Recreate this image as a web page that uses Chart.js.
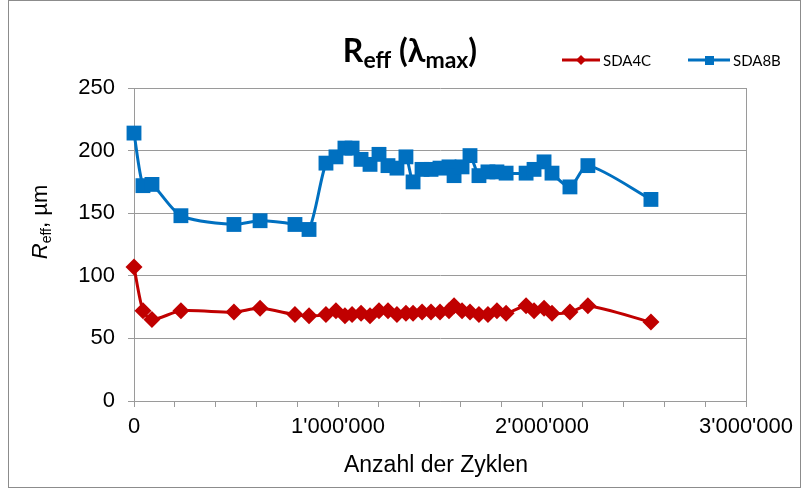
<!DOCTYPE html>
<html>
<head>
<meta charset="utf-8">
<script src="https://cdn.jsdelivr.net/npm/chart.js@4/dist/chart.umd.min.js"></script>
<style>
  html, body { margin: 0; padding: 0; background: #fff; }
  canvas { display: block; }
</style>
</head>
<body>
<canvas id="grafico" width="809" height="489"></canvas>
<script>
// Zyklen (x) und Reff-Werte pro Probe
const cycles = [0, 44000, 88000, 230000, 490000, 618000, 789000, 858000, 941000, 990000,
  1034000, 1069000, 1113000, 1157000, 1201000, 1245000, 1289000, 1333000, 1368000, 1412000,
  1456000, 1500000, 1544000, 1569000, 1608000, 1647000, 1691000, 1735000, 1779000, 1824000,
  1922000, 1961000, 2010000, 2049000, 2137000, 2225000, 2534000];
const sda4c = [107, 72, 65, 72, 71, 74, 69, 68, 69, 72, 68, 69, 70, 68, 72, 72, 69, 70, 70, 71,
  71, 71, 72, 76, 72, 71, 69, 69, 72, 70, 76, 72, 74, 70, 71, 76, 63];
const sda8b = [214, 172, 173, 148, 141, 144, 141, 137, 190, 195, 202, 202, 193, 189, 197, 188,
  186, 195, 175, 185, 185, 186, 187, 180, 187, 196, 180, 183, 183, 182, 182, 185, 191, 182, 171, 188, 161];
const seriesNames = ['SDA4C', 'SDA8B'];
const yTicks = [0, 50, 100, 150, 200, 250];
const xLabels = [0, 1000000, 2000000, 3000000];

const RED = '#C00000';
const BLUE = '#0070C0';
const GRID = '#9a9a9a';

function fmt(v) {
  return String(v).replace(/\B(?=(\d{3})+(?!\d))/g, "'");
}

function pts(ys) {
  return ys.map((y, i) => ({ x: cycles[i], y }));
}

// Titel, Legende, Achsentitel und Rahmen selbst zeichnen (Subskripte)
const deko = {
  id: 'deko',
  afterDraw(chart) {
    const ctx = chart.ctx;
    const area = chart.chartArea;
    ctx.save();

    // Rahmen
    ctx.strokeStyle = '#8c8c8c';
    ctx.lineWidth = 1;
    ctx.strokeRect(8.5, 0.5, 792, 487);

    // rechter Rand der Plotfläche
    ctx.strokeStyle = GRID;
    ctx.beginPath();
    ctx.moveTo(Math.round(area.right) + 0.5, area.top);
    ctx.lineTo(Math.round(area.right) + 0.5, area.bottom);
    ctx.stroke();

    // Titel
    const big = 'bold 32px Lato, "DejaVu Sans", sans-serif';
    const small = 'bold 23px Lato, "DejaVu Sans", sans-serif';
    const parts = [
      { t: 'R', f: big, dy: 0 },
      { t: 'eff', f: small, dy: 6 },
      { t: ' (\u03BB', f: big, dy: 0 },
      { t: 'max', f: small, dy: 6 },
      { t: ')', f: big, dy: 0 }
    ];
    let w = 0;
    parts.forEach(p => { ctx.font = p.f; p.w = ctx.measureText(p.t).width; w += p.w; });
    let x = 410 - w / 2;
    ctx.fillStyle = '#000';
    ctx.textBaseline = 'alphabetic';
    ctx.textAlign = 'left';
    parts.forEach(p => { ctx.font = p.f; ctx.fillText(p.t, x, 62 + p.dy); x += p.w; });

    // Legende
    ctx.lineWidth = 3;
    ctx.strokeStyle = RED;
    ctx.beginPath(); ctx.moveTo(562, 60); ctx.lineTo(600, 60); ctx.stroke();
    ctx.fillStyle = RED;
    ctx.beginPath();
    ctx.moveTo(581, 55); ctx.lineTo(586, 60); ctx.lineTo(581, 65); ctx.lineTo(576, 60);
    ctx.closePath(); ctx.fill();
    ctx.strokeStyle = BLUE;
    ctx.beginPath(); ctx.moveTo(688, 60); ctx.lineTo(730, 60); ctx.stroke();
    ctx.fillStyle = BLUE;
    ctx.fillRect(705, 56, 9, 9);
    ctx.fillStyle = '#000';
    ctx.font = '15px Lato, sans-serif';
    ctx.textBaseline = 'middle';
    ctx.fillText(seriesNames[0], 603, 61);
    ctx.fillText(seriesNames[1], 733, 61);

    // x-Achsentitel
    ctx.font = '23px "Liberation Sans", Arial, sans-serif';
    ctx.textAlign = 'center';
    ctx.textBaseline = 'alphabetic';
    ctx.fillText('Anzahl der Zyklen', 436, 472);

    // y-Achsentitel
    ctx.translate(47, 222);
    ctx.rotate(-Math.PI / 2);
    const yp = [
      { t: 'R', f: 'italic 22px "Liberation Sans", Arial, sans-serif', dy: 0 },
      { t: 'eff', f: '14px "Liberation Sans", Arial, sans-serif', dy: 4 },
      { t: ', \u00B5m', f: '22px "Liberation Sans", Arial, sans-serif', dy: 0 }
    ];
    w = 0;
    yp.forEach(p => { ctx.font = p.f; p.w = ctx.measureText(p.t).width; w += p.w; });
    x = -w / 2;
    ctx.textAlign = 'left';
    yp.forEach(p => { ctx.font = p.f; ctx.fillText(p.t, x, p.dy); x += p.w; });

    ctx.restore();
  }
};

new Chart(document.getElementById('grafico').getContext('2d'), {
  type: 'line',
  data: {
    datasets: [
      {
        label: seriesNames[0],
        data: pts(sda4c),
        borderColor: RED,
        backgroundColor: RED,
        borderWidth: 3,
        pointStyle: 'rectRot',
        pointRadius: 8.5,
        pointHoverRadius: 8.5,
        pointBorderWidth: 0,
        tension: 0.25,
        clip: false
      },
      {
        label: seriesNames[1],
        data: pts(sda8b),
        borderColor: BLUE,
        backgroundColor: BLUE,
        borderWidth: 3,
        pointStyle: 'rect',
        pointRadius: 10.5,
        pointHoverRadius: 10.5,
        pointBorderWidth: 0,
        tension: 0.25,
        clip: false
      }
    ]
  },
  options: {
    responsive: false,
    animation: false,
    layout: { padding: { left: 0, top: 88, right: 63, bottom: 0 } },
    plugins: {
      legend: { display: false },
      title: { display: false },
      tooltip: { enabled: false }
    },
    scales: {
      x: {
        type: 'linear',
        min: 0,
        max: 3000000,
        afterFit: s => { s.height = 88; },
        afterBuildTicks: s => {
          const t = [];
          for (let v = 0; v <= 3000000; v += 200000) t.push({ value: v });
          s.ticks = t;
        },
        ticks: {
          autoSkip: false,
          maxRotation: 0,
          padding: 7,
          color: '#000',
          font: { family: '"Liberation Sans", Arial, sans-serif', size: 22 },
          callback: v => xLabels.includes(v) ? fmt(v) : ''
        },
        grid: { drawOnChartArea: false, drawTicks: true, tickLength: 6, color: GRID },
        border: { color: GRID }
      },
      y: {
        min: 0,
        max: 250,
        afterFit: s => { s.width = 134; },
        afterBuildTicks: s => { s.ticks = yTicks.map(v => ({ value: v })); },
        ticks: {
          padding: 13,
          color: '#000',
          font: { family: '"Liberation Sans", Arial, sans-serif', size: 22 }
        },
        grid: { color: GRID, tickLength: 6 },
        border: { color: GRID }
      }
    }
  },
  plugins: [deko]
});
</script>
</body>
</html>
